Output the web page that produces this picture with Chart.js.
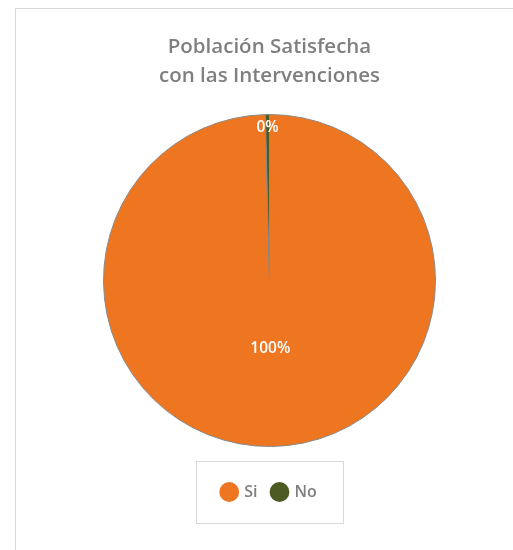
<!DOCTYPE html>
<html>
<head>
<meta charset="utf-8">
<script src="https://cdn.jsdelivr.net/npm/chart.js@4"></script>
<style>
  body { margin: 0; background: #fff; }
  #wrap { position: relative; width: 513px; height: 550px; }
  #frame {
    position: absolute; left: 15px; top: 8px; right: 0; bottom: 0;
    border-left: 1px solid #d9d9d9; border-top: 1px solid #d9d9d9;
  }
  #pie-chart { position: absolute; left: 0; top: 0; }
</style>
</head>
<body>
<div id="wrap">
  <div id="frame"></div>
  <canvas id="pie-chart" width="513" height="550"></canvas>
</div>
<script>
// respuestas de la encuesta
const categorias = ['Si', 'No'];
const respuestas = [249, 1];
const colores = ['#ee7620', '#4e5a23'];

// etiquetas de porcentaje dentro de cada porcion
const etiquetasPie = {
  id: 'etiquetasPie',
  afterDatasetsDraw(chart, args, opts) {
    const ctx = chart.ctx;
    const meta = chart.getDatasetMeta(0);
    const data = chart.data.datasets[0].data;
    const total = data.reduce((a, b) => a + b, 0);
    ctx.save();
    ctx.fillStyle = '#ffffff';
    ctx.font = '600 15.5px "Open Sans"';
    ctx.textAlign = 'center';
    ctx.textBaseline = 'middle';
    meta.data.forEach((arc, i) => {
      const p = arc.getProps(['x', 'y', 'startAngle', 'endAngle', 'outerRadius'], true);
      const ang = (p.startAngle + p.endAngle) / 2;
      const r = p.outerRadius * opts.radios[i];
      const texto = Math.round(data[i] / total * 100) + '%';
      ctx.fillText(texto, p.x + Math.cos(ang) * r, p.y + Math.sin(ang) * r);
    });
    ctx.restore();
  }
};

// recuadro alrededor de la leyenda
const cajaLeyenda = {
  id: 'cajaLeyenda',
  afterDraw(chart) {
    const boxes = chart.legend.legendHitBoxes;
    if (!boxes.length) return;
    const izq = Math.min(...boxes.map(b => b.left));
    const der = Math.max(...boxes.map(b => b.left + b.width));
    const cy = boxes[0].top + boxes[0].height / 2;
    const ctx = chart.ctx;
    ctx.save();
    ctx.strokeStyle = '#d9d9d9';
    ctx.lineWidth = 1;
    ctx.strokeRect(Math.round(izq - 26) + 0.5, Math.round(cy - 31) + 0.5, Math.round(der - izq + 52), 62);
    ctx.restore();
  }
};

const ctx2 = document.getElementById('pie-chart').getContext('2d');
const myChart = new Chart(ctx2, {
  type: 'pie',
  data: {
    labels: categorias,
    datasets: [{
      data: respuestas,
      backgroundColor: colores,
      borderColor: '#8a8a8a',
      borderWidth: 1
    }]
  },
  options: {
    responsive: false,
    animation: false,
    layout: { padding: { left: 26, top: 0, right: 0, bottom: 40 } },
    plugins: {
      title: {
        display: true,
        text: ['Población Satisfecha', 'con las Intervenciones'],
        color: '#7f7f7f',
        font: { family: 'Open Sans', size: 20.5, weight: '600', lineHeight: 1.4 },
        padding: { top: 33, bottom: 23.6 }
      },
      legend: {
        position: 'bottom',
        // titulo vacio: solo separa la leyenda del circulo
        title: { display: true, text: '', padding: { top: 21, bottom: 0 }, font: { size: 1, lineHeight: 1 } },
        labels: {
          usePointStyle: true,
          pointStyle: 'circle',
          boxWidth: 14,
          boxHeight: 14,
          padding: 15,
          color: '#7f7f7f',
          font: { family: 'Open Sans', size: 16, weight: '600' },
          // marcadores sin el borde gris de las porciones
          generateLabels(chart) {
            const items = Chart.overrides.pie.plugins.legend.labels.generateLabels(chart);
            items.forEach(it => { it.lineWidth = 0; it.strokeStyle = it.fillStyle; });
            return items;
          }
        }
      },
      tooltip: { enabled: false },
      etiquetasPie: { radios: [0.41, 0.92] }
    }
  },
  plugins: [etiquetasPie, cajaLeyenda]
});
</script>
</body>
</html>
